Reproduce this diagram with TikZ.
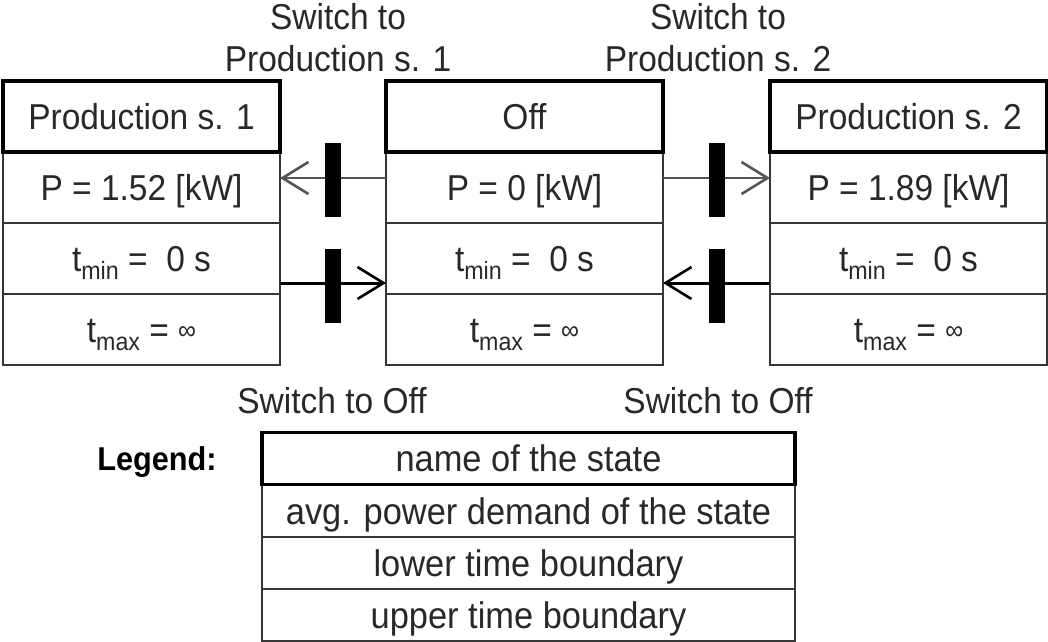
\documentclass[tikz,border=0pt]{standalone}
\usepackage{fontspec}
\setmainfont{Liberation Sans}[FakeStretch=0.93]
\usetikzlibrary{arrows.meta}
\definecolor{txt}{RGB}{40,40,40}
\definecolor{edge}{RGB}{55,55,55}
\definecolor{thin}{RGB}{85,85,85}
\newcommand{\mysubmin}{t\raisebox{-8pt}{\fontsize{25}{25}\selectfont min}}
\newcommand{\mysubmax}{t\raisebox{-8pt}{\fontsize{25}{25}\selectfont max}}
\newcommand{\myinf}{\raisebox{3pt}{\fontsize{27}{27}\selectfont ∞}}
\begin{document}
\begin{tikzpicture}[x=1pt,y=-1pt,
  every node/.style={text=txt, font=\fontsize{36}{42}\selectfont, inner sep=0pt, outer sep=0pt},
  cell/.style={draw=edge, line width=2.5pt, minimum width=277pt, minimum height=71pt, text height=26pt, text depth=0pt},
  namecell/.style={cell, draw=black, line width=3.5pt},
  lcell/.style={draw=edge, line width=2.5pt, minimum width=533pt, minimum height=52pt, text height=26pt, text depth=0pt, font=\fontsize{37}{42}\selectfont},
  lname/.style={lcell, draw=black, line width=3.5pt},
  bar/.style={fill=black, draw=none, minimum width=16pt, minimum height=74pt},
  transtop/.style={line width=2pt, draw=thin, -{Straight Barb[length=26pt,width=32pt,line width=2.6pt]}},
  transbot/.style={line width=3pt, draw=black, -{Straight Barb[length=26pt,width=32pt,line width=2.6pt]}},
  lbl/.style={align=center, text height=26pt, text depth=0pt}
]
\useasboundingbox (0,0) rectangle (1048,641);

% Production s. 1
\node[cell] (pb) at (141.5,187.5) {P = 1.52 [kW]};
\node[cell] (pc) at (141.5,258.5) {\mysubmin{} =\ \ 0 s};
\node[cell] (pd) at (141.5,329.5) {\mysubmax{} = \myinf};
\node[namecell] (pa) at (141.5,116.5) {Production s. 1};

% Off
\node[cell] (ob) at (524.5,187.5) {P = 0 [kW]};
\node[cell] (oc) at (524.5,258.5) {\mysubmin{} =\ \ 0 s};
\node[cell] (od) at (524.5,329.5) {\mysubmax{} = \myinf};
\node[namecell] (oa) at (524.5,116.5) {Off};

% Production s. 2
\node[cell] (qb) at (908.5,187.5) {P = 1.89 [kW]};
\node[cell] (qc) at (908.5,258.5) {\mysubmin{} =\ \ 0 s};
\node[cell] (qd) at (908.5,329.5) {\mysubmax{} = \myinf};
\node[namecell] (qa) at (908.5,116.5) {Production s. 2};

% transitions
\draw[transtop] ([yshift=9.5pt]ob.west) -- ([yshift=9.5pt]pb.east) node[bar, midway, yshift=-2pt] (b1) {};
\draw[transbot] ([yshift=-24.5pt]pc.east) -- ([yshift=-24.5pt]oc.west) node[bar, midway, yshift=-3pt] (b2) {};
\draw[transtop] ([yshift=9.5pt]ob.east) -- ([yshift=9.5pt]qb.west) node[bar, midway, yshift=-2pt] (b3) {};
\draw[transbot] ([yshift=-24.5pt]qc.west) -- ([yshift=-24.5pt]oc.east) node[bar, midway, yshift=-3pt] (b4) {};

% labels
\node[align=center] (l1) at (338,38) {Switch to\\Production s. 1};
\node[align=center] (l2) at (718,38) {Switch to\\Production s. 2};
\node[lbl] (l3) at (332,400) {Switch to Off};
\node[lbl] (l4) at (718,400) {Switch to Off};

% legend
\node[lbl, font=\fontsize{33}{40}\selectfont\bfseries, text=black] (lg) at (157,457) {Legend:};
\node[lcell] (lb) at (528.5,511) {avg. power demand of the state};
\node[lcell] (lc) at (528.5,563) {lower time boundary};
\node[lcell] (ld) at (528.5,615) {upper time boundary};
\node[lname] (la) at (528.5,458.5) {name of the state};
\end{tikzpicture}
\end{document}
